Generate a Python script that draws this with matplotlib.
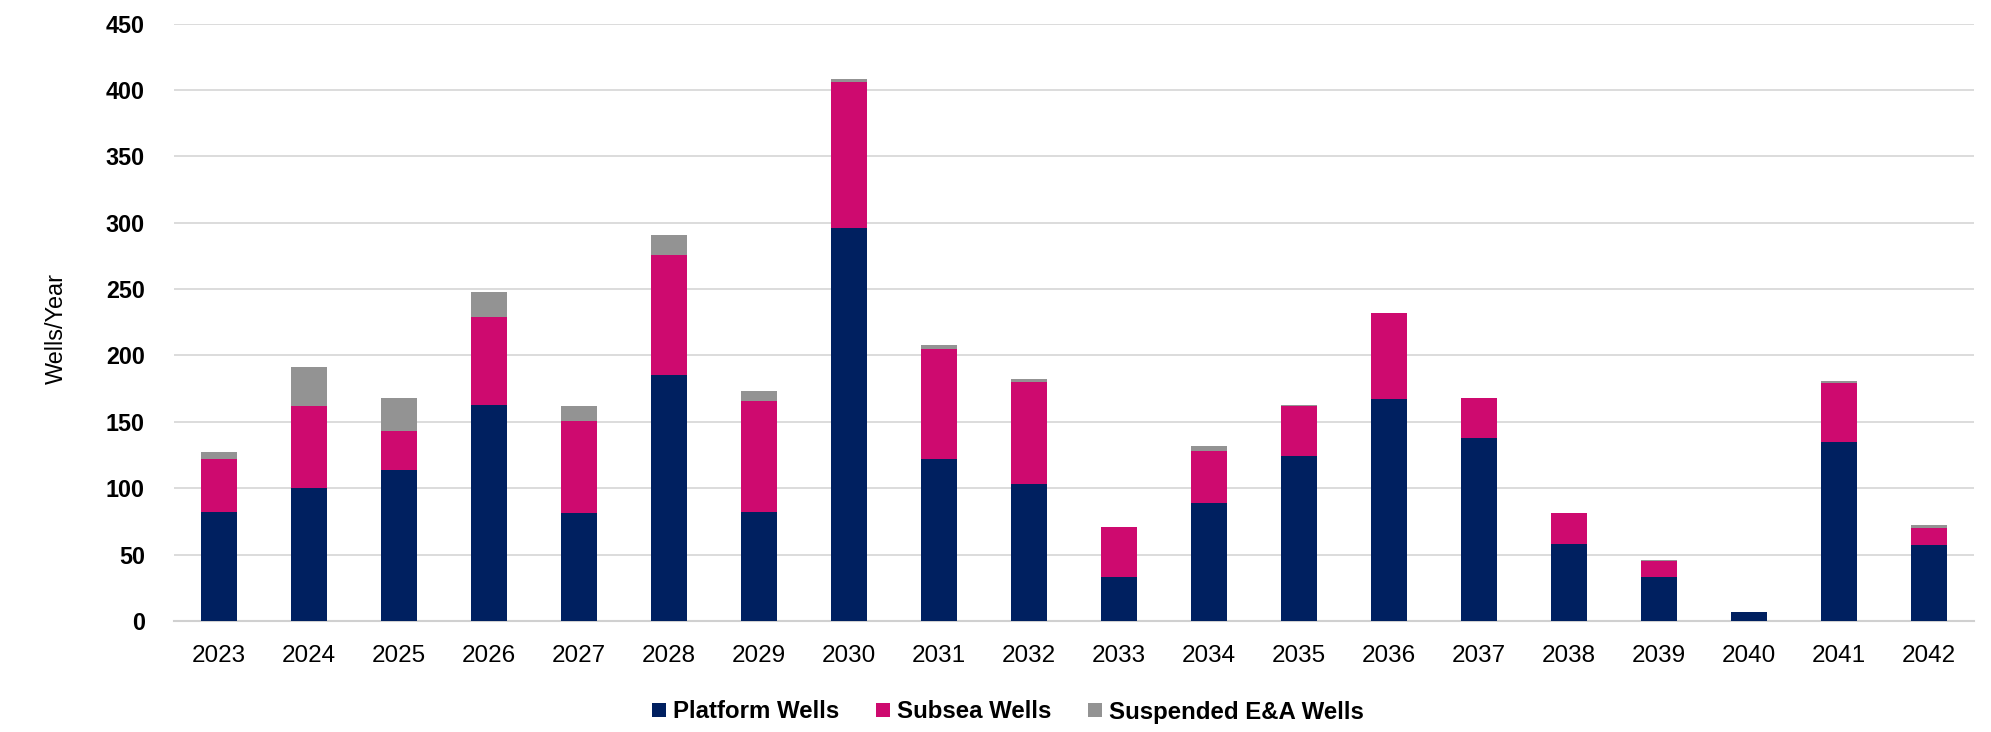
import matplotlib
matplotlib.use("Agg")
import matplotlib.pyplot as plt
import numpy as np

years = ["2023", "2024", "2025", "2026", "2027", "2028", "2029", "2030", "2031", "2032",
         "2033", "2034", "2035", "2036", "2037", "2038", "2039", "2040", "2041", "2042"]
platform = [82, 100, 114, 163, 81, 185, 82, 296, 122, 103, 33, 89, 124, 167, 138, 58, 33, 7, 135, 57]
subsea = [40, 62, 29, 66, 70, 91, 84, 110, 83, 77, 38, 39, 38, 65, 30, 23, 12, 0, 44, 13]
suspended = [5, 29, 25, 19, 11, 15, 7, 2, 3, 2, 0, 4, 1, 0, 0, 0, 1, 0, 2, 2]
series_names = ["Platform Wells", "Subsea Wells", "Suspended E&A Wells"]
colors = ["#002060", "#CE0A6F", "#939393"]
yticks = [0, 50, 100, 150, 200, 250, 300, 350, 400, 450]

plt.rcParams['font.family'] = ['Liberation Sans', 'DejaVu Sans']

fig = plt.figure(figsize=(19.91, 7.32), dpi=100)
ax = fig.add_axes([174 / 1991, 1 - 621 / 732, 1800 / 1991, (621 - 23.6) / 732])

x = np.arange(len(years))
w = 0.4
p = np.array(platform)
s = np.array(subsea)
g = np.array(suspended)
b1 = ax.bar(x, p, w, color=colors[0], label=series_names[0], zorder=3)
b2 = ax.bar(x, s, w, bottom=p, color=colors[1], label=series_names[1], zorder=3)
b3 = ax.bar(x, g, w, bottom=p + s, color=colors[2], label=series_names[2], zorder=3)

ax.set_xlim(-0.5, len(years) - 0.5)
ax.set_ylim(0, 450)
ax.set_yticks(yticks)
ax.set_yticklabels([str(v) for v in yticks], fontsize=16.8, fontweight='bold')
ax.set_xticks(x)
ax.set_xticklabels(years, fontsize=17.5)
ax.tick_params(axis='both', length=0)
ax.tick_params(axis='y', pad=21)
ax.tick_params(axis='x', pad=17)
ax.grid(axis='y', color='#D9D9D9', linewidth=1.3, zorder=0)
for sp in ['top', 'right', 'left']:
    ax.spines[sp].set_visible(False)
ax.spines['bottom'].set_color('#D0D0D0')
ax.spines['bottom'].set_linewidth(1.5)

fig.text(56.7 / 1991, 1 - 329 / 732, "Wells/Year", rotation=90, fontsize=16.8,
         ha='center', va='center')

fig.legend(handles=[b1, b2, b3], labels=series_names, loc='center',
           bbox_to_anchor=(1008 / 1991, 1 - 712 / 732), ncol=3, frameon=False,
           prop={'size': 17.3, 'weight': 'bold'}, handlelength=0.55, handleheight=0.55,
           handletextpad=0.3, columnspacing=1.55)

fig.savefig("out.png", dpi=100, facecolor='white')
